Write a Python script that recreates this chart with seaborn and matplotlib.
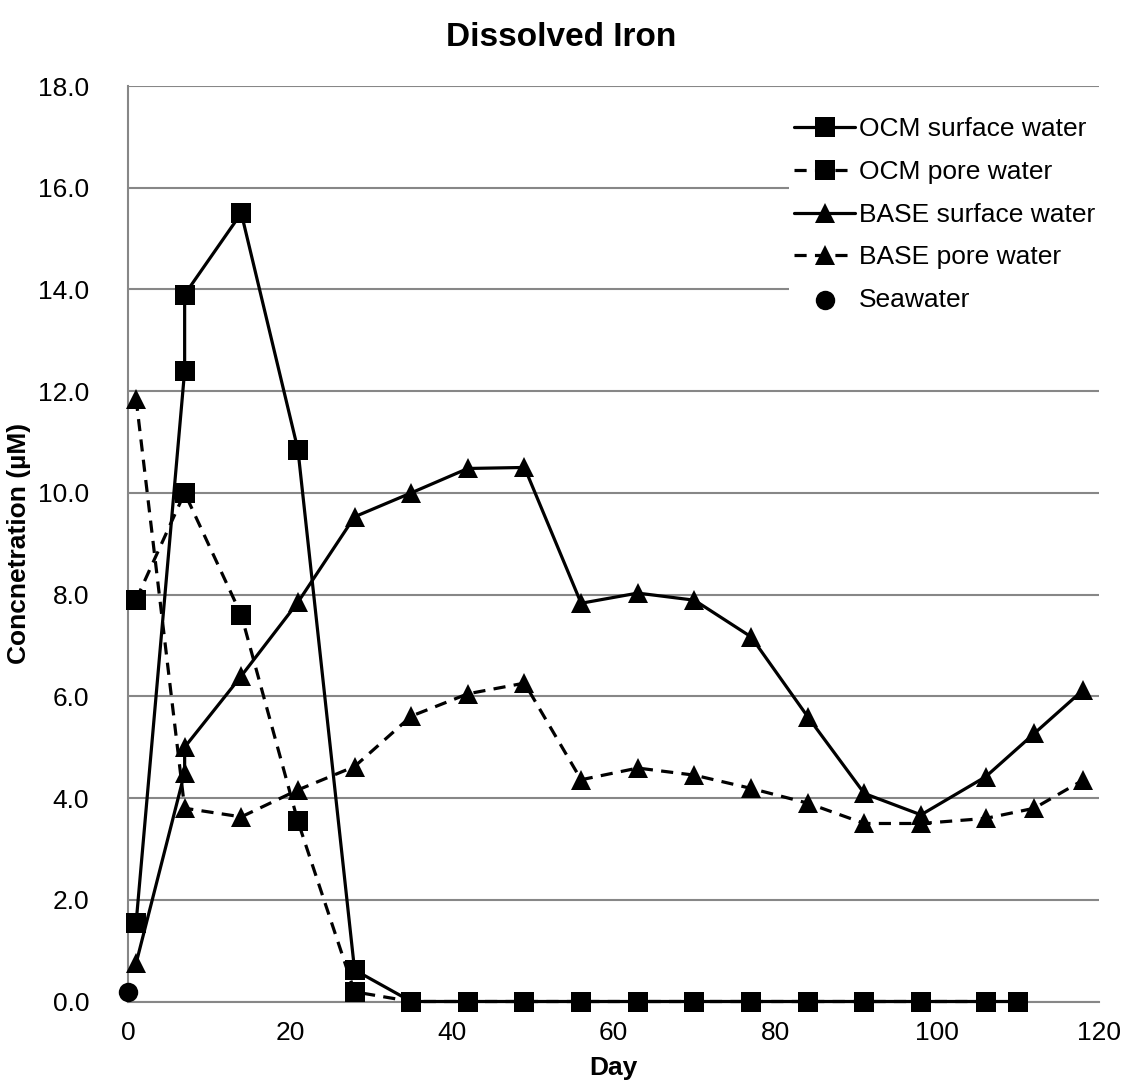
import matplotlib
matplotlib.use("Agg")
import matplotlib.pyplot as plt
import seaborn as sns
import pandas as pd

# ---- data ----
ocm_surface_day = [1, 7, 7, 14, 21, 28, 35, 42, 49, 56, 63, 70, 77, 84, 91, 98, 106, 110]
ocm_surface_val = [1.54, 12.4, 13.9, 15.5, 10.85, 0.62, 0, 0, 0, 0, 0, 0, 0, 0, 0, 0, 0, 0]

ocm_pore_day = [1, 7, 14, 21, 28, 35, 42, 49, 56, 63, 70, 77, 84, 91, 98, 106]
ocm_pore_val = [7.9, 10.0, 7.6, 3.54, 0.19, 0, 0, 0, 0, 0, 0, 0, 0, 0, 0, 0]

base_surface_day = [1, 7, 7, 14, 21, 28, 35, 42, 49, 56, 63, 70, 77, 84, 91, 98, 106, 112, 118]
base_surface_val = [0.75, 4.5, 5.0, 6.4, 7.85, 9.53, 10.0, 10.48, 10.5, 7.83, 8.03, 7.89, 7.17,
                    5.6, 4.09, 3.67, 4.42, 5.27, 6.12]

base_pore_day = [1, 7, 14, 21, 28, 35, 42, 49, 56, 63, 70, 77, 84, 91, 98, 106, 112, 118]
base_pore_val = [11.85, 3.8, 3.63, 4.16, 4.62, 5.61, 6.05, 6.26, 4.36, 4.59, 4.45, 4.19,
                 3.9, 3.5, 3.5, 3.6, 3.8, 4.35]

seawater_day = [0]
seawater_val = [0.18]

y_ticks = [0, 2, 4, 6, 8, 10, 12, 14, 16, 18]
x_ticks = [0, 20, 40, 60, 80, 100, 120]

title = "Dissolved Iron"
x_label = "Day"
y_label = "Concnetration (µM)"

# ---- style ----
sns.set_theme(style="white")
plt.rcParams["font.family"] = ["Liberation Sans", "DejaVu Sans"]

W, H = 1123, 1089
fig = plt.figure(figsize=(W / 100, H / 100), dpi=100)
ax = fig.add_axes([128 / W, (H - 1001.5) / H, (1099 - 128) / W, (1001.5 - 86) / H])

fs = 19
lw = 2.3
ms = 14
dash = (0, (3.8, 2.6))

series = [
    ("OCM surface water", ocm_surface_day, ocm_surface_val, "s", "-"),
    ("OCM pore water", ocm_pore_day, ocm_pore_val, "s", dash),
    ("BASE surface water", base_surface_day, base_surface_val, "^", "-"),
    ("BASE pore water", base_pore_day, base_pore_val, "^", dash),
]
for name, d, v, m, ls in series:
    df = pd.DataFrame({"Day": d, "Val": v})
    sns.lineplot(data=df, x="Day", y="Val", estimator=None, sort=False, ax=ax,
                 color="black", linewidth=lw, linestyle=ls, marker=m,
                 markersize=ms, markeredgewidth=0, label=name, clip_on=False,
                 zorder=3)

sns.scatterplot(x=seawater_day, y=seawater_val, ax=ax, color="black", marker="o",
                s=ms ** 2, linewidth=0, label="Seawater", clip_on=False, zorder=3)

ax.set_xlim(0, 120)
ax.set_ylim(0, 18)
ax.set_xticks(x_ticks)
ax.set_yticks(y_ticks)
ax.set_yticklabels([f"{t:.1f}" for t in y_ticks])
ax.tick_params(axis="both", length=0, labelsize=fs, colors="black")
ax.tick_params(axis="y", pad=28)
ax.tick_params(axis="x", pad=14)
ax.yaxis.grid(True, color="#878787", linewidth=1.5)
ax.xaxis.grid(False)
ax.set_axisbelow(True)
for s in ["top", "right"]:
    ax.spines[s].set_visible(False)
for s in ["left", "bottom"]:
    ax.spines[s].set_color("#878787")
    ax.spines[s].set_linewidth(1.5)
    ax.spines[s].set_zorder(1)

ax.set_xlabel(x_label, fontsize=fs, fontweight="bold", labelpad=8, color="black")
ax.set_ylabel(y_label, fontsize=fs, fontweight="bold", labelpad=5, color="black")
fig.text(0.5, 1 - 38 / H, title, fontsize=24, fontweight="bold",
         ha="center", va="center", color="black")

leg = ax.legend(loc="upper left", bbox_to_anchor=(789 / W, (H - 112) / H),
                bbox_transform=fig.transFigure, frameon=True, fancybox=False,
                facecolor="white", edgecolor="none", framealpha=1.0,
                fontsize=fs, handlelength=2.3, handletextpad=0.15,
                labelspacing=0.71, borderaxespad=0, borderpad=0.2)
leg.set_zorder(5)
for t in leg.get_texts():
    t.set_color("black")

fig.savefig("out.png", dpi=100)
